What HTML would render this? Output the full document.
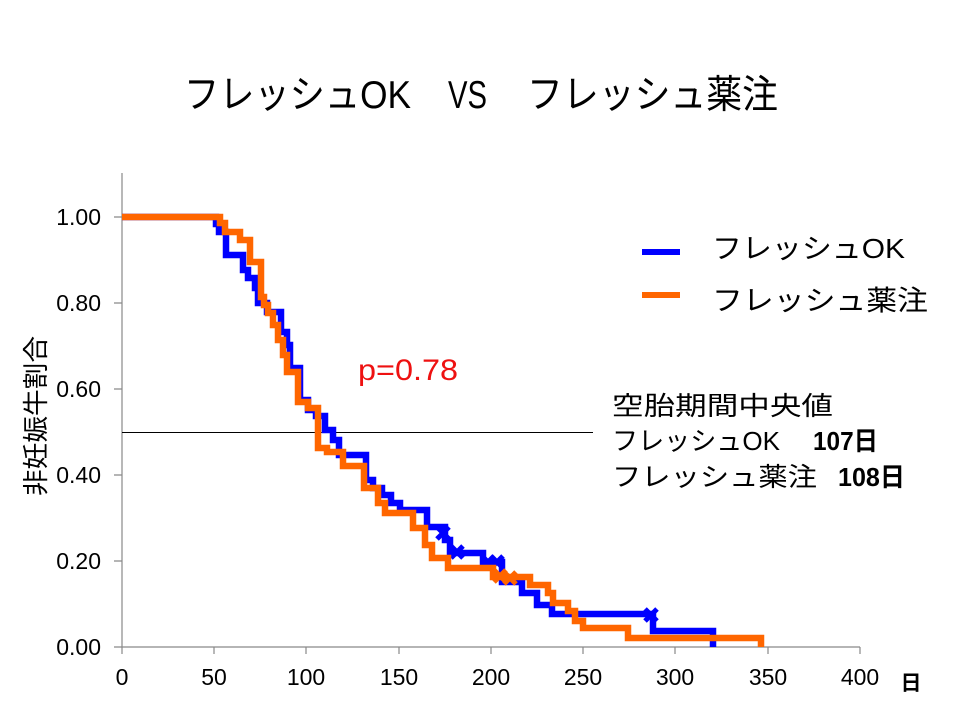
<!DOCTYPE html>
<html><head><meta charset="utf-8"><style>
html,body{margin:0;padding:0;background:#fff;}
svg{display:block;}
text{font-family:"Liberation Sans","Noto Sans CJK JP",sans-serif;}
</style></head><body>
<svg width="960" height="720" viewBox="0 0 960 720" xmlns="http://www.w3.org/2000/svg">
<rect width="960" height="720" fill="#fff"/>
<!-- title -->
<text x="184" y="108" font-size="39" textLength="227" lengthAdjust="spacingAndGlyphs">フレッシュOK</text>
<text x="448" y="108" font-size="39" textLength="39" lengthAdjust="spacingAndGlyphs">VS</text>
<text x="527" y="108" font-size="39" textLength="251" lengthAdjust="spacingAndGlyphs">フレッシュ薬注</text>

<!-- axes -->
<g stroke="#898989" stroke-width="1.2" fill="none">
<path d="M122,173 V647 H860"/>
<path d="M114,217 H122 M114,303 H122 M114,389 H122 M114,475 H122 M114,561 H122 M114,647 H122"/>
<path d="M122,647 V654 M214,647 V654 M306,647 V654 M399,647 V654 M491,647 V654 M583,647 V654 M675,647 V654 M768,647 V654 M860,647 V654"/>
</g>
<g font-size="23" text-anchor="end" fill="#000">
<text x="101" y="225">1.00</text>
<text x="101" y="311">0.80</text>
<text x="101" y="397">0.60</text>
<text x="101" y="483">0.40</text>
<text x="101" y="569">0.20</text>
<text x="101" y="655">0.00</text>
</g>
<g font-size="23" text-anchor="middle" fill="#000">
<text x="122" y="685">0</text>
<text x="214" y="685">50</text>
<text x="306" y="685">100</text>
<text x="399" y="685">150</text>
<text x="491" y="685">200</text>
<text x="583" y="685">250</text>
<text x="675" y="685">300</text>
<text x="768" y="685">350</text>
<text x="860" y="685">400</text>
</g>
<text x="911" y="690" font-size="21" font-weight="bold" text-anchor="middle">日</text>
<text transform="translate(45,416) rotate(-90)" x="0" y="0" font-size="26" text-anchor="middle" textLength="160" lengthAdjust="spacingAndGlyphs">非妊娠牛割合</text>

<!-- median line -->
<path d="M122,432.5 H593" stroke="#000" stroke-width="1"/>

<!-- blue curve -->
<path d="M122,217 H216 V224 H219 V232 H226 V255 H243 V270 H248 V278 H255 V288 H258 V303 H267 V312 H281 V332 H287 V345 H290 V368 H300 V400 H308 V410 H316 V416 H325 V430 H333 V440 H339 V455 H366 V480 H373 V488 H382 V495 H391 V503 H400 V510 H427 V527 H445 V540 H450 V553 H483 V562 H502 V582 H522 V593 H537 V605 H552 V614 H653 V631 H713 V647" stroke="#0000ff" stroke-width="6.5" fill="none" stroke-linejoin="miter"/>
<g stroke="#0000ff" stroke-width="5" fill="none">
<path d="M437,527 L449,539 M449,527 L437,539"/>
<path d="M451,546 L463,558 M463,546 L451,558"/>
<path d="M482,556 L494,568 M494,556 L482,568"/>
<path d="M491,556 L503,568 M503,556 L491,568"/>
<path d="M645,609 L657,621 M657,609 L645,621"/>
</g>

<!-- orange curve -->
<path d="M122,217 H220 V223 H225 V232 H240 V240 H250 V262 H261 V297 H264 V305 H268 V313 H273 V325 H278 V340 H283 V355 H287 V372 H298 V402 H308 V408 H318 V448 H327 V452 H343 V466 H364 V488 H378 V503 H385 V513 H413 V528 H425 V545 H432 V558 H448 V568 H493 V577 H530 V585 H548 V593 H553 V603 H568 V611 H575 V621 H583 V628 H628 V638 H761 V647" stroke="#ff6600" stroke-width="6.5" fill="none" stroke-linejoin="miter"/>
<g stroke="#ff6600" stroke-width="5" fill="none">
<path d="M494,570 L506,582 M506,570 L494,582"/>
<path d="M504,572 L516,584 M516,572 L504,584"/>
</g>

<!-- p value -->
<text x="358" y="380" font-size="30" fill="#ee1111" textLength="100" lengthAdjust="spacingAndGlyphs">p=0.78</text>

<!-- legend -->
<path d="M642,252 H680" stroke="#0000ff" stroke-width="6"/>
<path d="M642,295 H680" stroke="#ff6600" stroke-width="6"/>
<text x="712" y="258" font-size="28" textLength="193" lengthAdjust="spacingAndGlyphs">フレッシュOK</text>
<text x="712" y="310" font-size="28" textLength="216" lengthAdjust="spacingAndGlyphs">フレッシュ薬注</text>

<!-- median block -->
<text x="612" y="415" font-size="26" textLength="221" lengthAdjust="spacingAndGlyphs">空胎期間中央値</text>
<text x="612" y="450" font-size="26" textLength="168" lengthAdjust="spacingAndGlyphs">フレッシュOK</text>
<text x="813" y="450" font-size="26" font-weight="bold" textLength="65" lengthAdjust="spacingAndGlyphs">107日</text>
<text x="612" y="486" font-size="26" textLength="205" lengthAdjust="spacingAndGlyphs">フレッシュ薬注</text>
<text x="838" y="486" font-size="26" font-weight="bold" textLength="67" lengthAdjust="spacingAndGlyphs">108日</text>
</svg>
</body></html>
